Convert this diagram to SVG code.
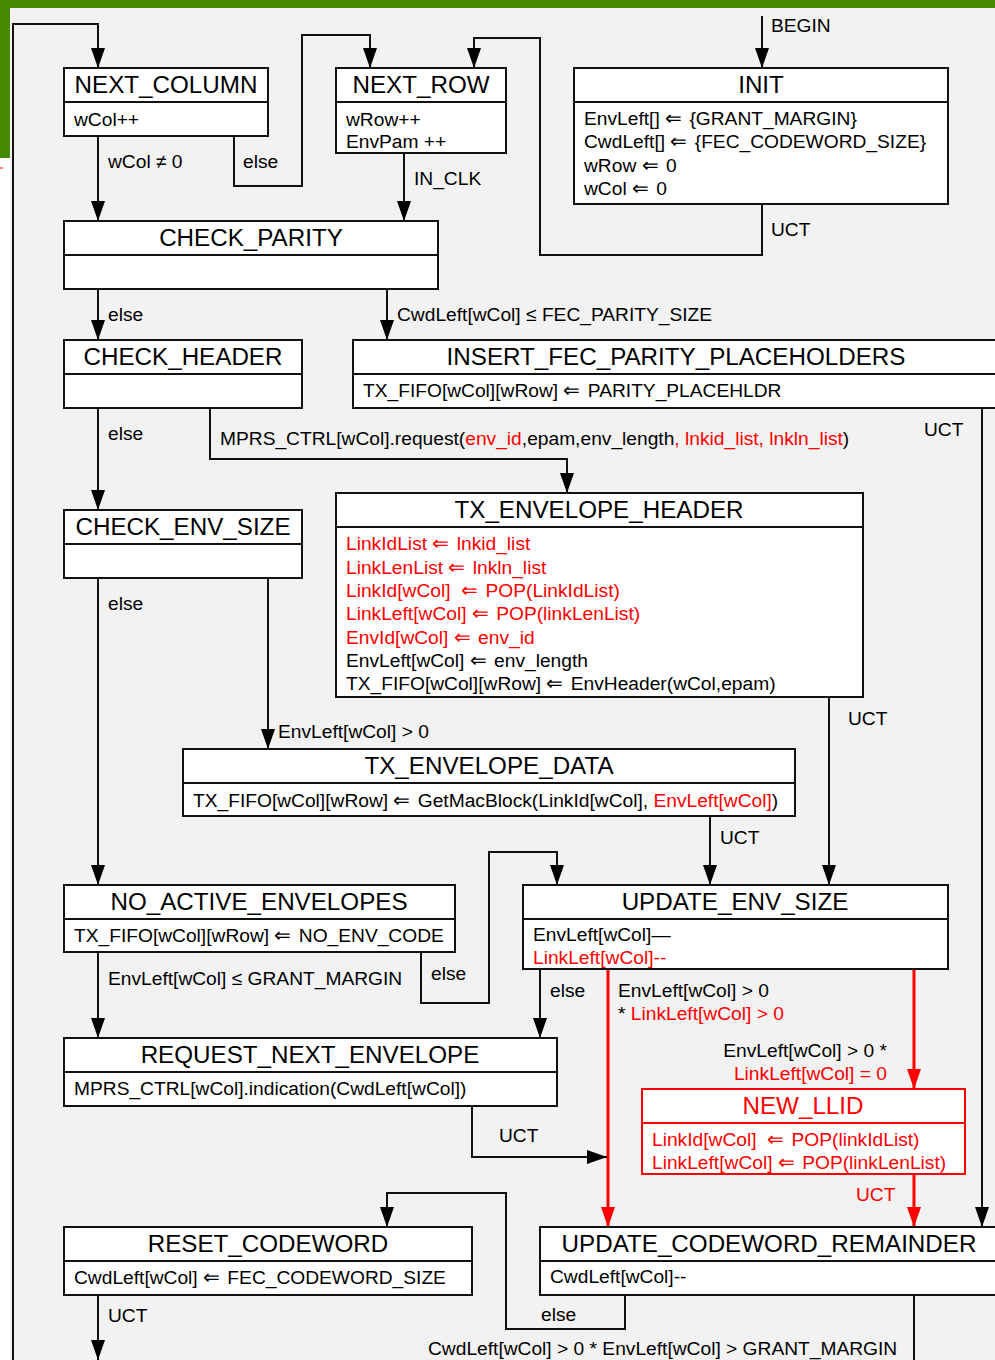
<svg xmlns="http://www.w3.org/2000/svg" width="995" height="1360" viewBox="0 0 995 1360">
<style>
text{font-family:"Liberation Sans",Arial,sans-serif;fill:#000}
.t{font-size:24.2px;text-anchor:middle}
.b{font-size:19.2px}
.l{font-size:19.2px}
.r{fill:#ff0000}
.a{font-size:20px;letter-spacing:2px}
.box{fill:#fff;stroke:#111;stroke-width:2}
.rbox{fill:#fff;stroke:#ff0000;stroke-width:2}
.div{stroke:#111;stroke-width:2;fill:none}
.rdiv{stroke:#ff0000;stroke-width:2;fill:none}
.c{fill:none;stroke:#111;stroke-width:2}
.cr{fill:none;stroke:#ff0000;stroke-width:3}
</style>
<defs>
<marker id="ah" viewBox="0 0 20 14" refX="20" refY="7" markerWidth="20" markerHeight="14" markerUnits="userSpaceOnUse" orient="auto"><path d="M0,0 L20,7 L0,14 z" fill="#000"/></marker>
<marker id="ahr" viewBox="0 0 20 14" refX="20" refY="7" markerWidth="20" markerHeight="14" markerUnits="userSpaceOnUse" orient="auto"><path d="M0,0 L20,7 L0,14 z" fill="#ff0000"/></marker>
</defs>
<rect x="0" y="0" width="995" height="1360" fill="#ffffff"/>
<rect x="10" y="8" width="985" height="1352" fill="#f2f2f2"/>
<rect x="0" y="0" width="995" height="8" fill="#458a00"/>
<rect x="0" y="0" width="10" height="158" fill="#458a00"/>
<path d="M0,168 H3" stroke="#ff0000" stroke-width="1"/>

<g id="connectors">
<path class="c" d="M13,1360 V24 H98 V68" marker-end="url(#ah)"/>
<path class="c" d="M762,16 V68" marker-end="url(#ah)"/>
<path class="c" d="M98,136 V221" marker-end="url(#ah)"/>
<path class="c" d="M234,136 V186 H302 V35 H370 V68" marker-end="url(#ah)"/>
<path class="c" d="M762,204 V255 H540 V38 H474 V68" marker-end="url(#ah)"/>
<path class="c" d="M404,153 V221" marker-end="url(#ah)"/>
<path class="c" d="M98,289 V340" marker-end="url(#ah)"/>
<path class="c" d="M387,289 V340" marker-end="url(#ah)"/>
<path class="c" d="M98,408 V510" marker-end="url(#ah)"/>
<path class="c" d="M210,408 V459 H567 V493" marker-end="url(#ah)"/>
<path class="c" d="M982,408 V1227" marker-end="url(#ah)"/>
<path class="c" d="M98,578 V885" marker-end="url(#ah)"/>
<path class="c" d="M268,578 V749" marker-end="url(#ah)"/>
<path class="c" d="M829,697 V885" marker-end="url(#ah)"/>
<path class="c" d="M710,816 V885" marker-end="url(#ah)"/>
<path class="c" d="M421,952 V1003 H489 V852 H557 V885" marker-end="url(#ah)"/>
<path class="c" d="M98,952 V1038" marker-end="url(#ah)"/>
<path class="c" d="M540,969 V1038" marker-end="url(#ah)"/>
<path class="cr" d="M608,969 V1227" marker-end="url(#ahr)"/>
<path class="cr" d="M914,969 V1089" marker-end="url(#ahr)"/>
<path class="c" d="M472,1106 V1157 H607" marker-end="url(#ah)"/>
<path class="cr" d="M914,1174 V1227" marker-end="url(#ahr)"/>
<path class="c" d="M625,1295 V1329 H506 V1193 H387 V1227" marker-end="url(#ah)"/>
<path class="c" d="M98,1295 V1360" marker-end="url(#ah)"/>
<path class="c" d="M914,1295 V1360"/>

<text class="l" x="771" y="32">BEGIN</text>
<text class="l" x="108" y="168">wCol ≠ 0</text>
<text class="l" x="243" y="168">else</text>
<text class="l" x="414" y="185">IN_CLK</text>
<text class="l" x="771" y="236">UCT</text>
<text class="l" x="108" y="321">else</text>
<text class="l" x="397" y="321">CwdLeft[wCol] ≤ FEC_PARITY_SIZE</text>
<text class="l" x="108" y="440">else</text>
<text class="l" x="220" y="445">MPRS_CTRL[wCol].request(<tspan class="r">env_id</tspan>,epam,env_length<tspan class="r">, lnkid_list, lnkln_list</tspan>)</text>
<text class="l" x="924" y="436">UCT</text>
<text class="l" x="108" y="610">else</text>
<text class="l" x="278" y="738">EnvLeft[wCol] &gt; 0</text>
<text class="l" x="848" y="725">UCT</text>
<text class="l" x="720" y="844">UCT</text>
<text class="l" x="431" y="980">else</text>
<text class="l" x="108" y="985">EnvLeft[wCol] ≤ GRANT_MARGIN</text>
<text class="l" x="550" y="997">else</text>
<text class="l" x="618" y="997">EnvLeft[wCol] &gt; 0</text>
<text class="l" x="618" y="1020">*<tspan class="r"> LinkLeft[wCol] &gt; 0</tspan></text>
<text class="l" x="887" y="1057" text-anchor="end">EnvLeft[wCol] &gt; 0 *</text>
<text class="l r" x="887" y="1080" text-anchor="end">LinkLeft[wCol] = 0</text>
<text class="l" x="499" y="1142">UCT</text>
<text class="l r" x="856" y="1201">UCT</text>
<text class="l" x="108" y="1322">UCT</text>
<text class="l" x="541" y="1321">else</text>
<text class="l" x="428" y="1355">CwdLeft[wCol] &gt; 0 * EnvLeft[wCol] &gt; GRANT_MARGIN</text>
</g>

<g id="next_column">
<rect class="box" x="64" y="68" width="204" height="68"/>
<path class="div" d="M64,102 H268"/>
<text class="t" x="166" y="93">NEXT_COLUMN</text>
<text class="b" x="74" y="126">wCol++</text>
</g>

<g id="next_row">
<rect class="box" x="336" y="68" width="170" height="85"/>
<path class="div" d="M336,102 H506"/>
<text class="t" x="421" y="93">NEXT_ROW</text>
<text class="b" x="346" y="126">wRow++</text>
<text class="b" x="346" y="148">EnvPam ++</text>
</g>

<g id="init">
<rect class="box" x="574" y="68" width="374" height="136"/>
<path class="div" d="M574,102 H948"/>
<text class="t" x="761" y="93">INIT</text>
<text class="b" x="584" y="125">EnvLeft[] <tspan class="a">⇐</tspan> {GRANT_MARGIN}</text>
<text class="b" x="584" y="148">CwdLeft[] <tspan class="a">⇐</tspan> {FEC_CODEWORD_SIZE}</text>
<text class="b" x="584" y="172">wRow <tspan class="a">⇐</tspan> 0</text>
<text class="b" x="584" y="195">wCol <tspan class="a">⇐</tspan> 0</text>
</g>

<g id="check_parity">
<rect class="box" x="64" y="221" width="374" height="68"/>
<path class="div" d="M64,255 H438"/>
<text class="t" x="251" y="246">CHECK_PARITY</text>
</g>

<g id="check_header">
<rect class="box" x="64" y="340" width="238" height="68"/>
<path class="div" d="M64,374 H302"/>
<text class="t" x="183" y="365">CHECK_HEADER</text>
</g>

<g id="insert_fec_parity_placeholders">
<rect class="box" x="353" y="340" width="647" height="68"/>
<path class="div" d="M353,374 H1000"/>
<text class="t" x="676" y="365">INSERT_FEC_PARITY_PLACEHOLDERS</text>
<text class="b" x="363" y="397">TX_FIFO[wCol][wRow] <tspan class="a">⇐</tspan> PARITY_PLACEHLDR</text>
</g>

<g id="check_env_size">
<rect class="box" x="64" y="510" width="238" height="68"/>
<path class="div" d="M64,544 H302"/>
<text class="t" x="183" y="535">CHECK_ENV_SIZE</text>
</g>

<g id="tx_envelope_header">
<rect class="box" x="336" y="493" width="527" height="204"/>
<path class="div" d="M336,527 H863"/>
<text class="t" x="599" y="518">TX_ENVELOPE_HEADER</text>
<text class="b r" x="346" y="550">LinkIdList <tspan class="a">⇐</tspan> lnkid_list</text>
<text class="b r" x="346" y="574">LinkLenList <tspan class="a">⇐</tspan> lnkln_list</text>
<text class="b r" x="346" y="597">LinkId[wCol]&#160; <tspan class="a">⇐</tspan> POP(LinkIdList)</text>
<text class="b r" x="346" y="620">LinkLeft[wCol] <tspan class="a">⇐</tspan> POP(linkLenList)</text>
<text class="b r" x="346" y="644">EnvId[wCol] <tspan class="a">⇐</tspan> env_id</text>
<text class="b" x="346" y="667">EnvLeft[wCol] <tspan class="a">⇐</tspan> env_length</text>
<text class="b" x="346" y="690">TX_FIFO[wCol][wRow] <tspan class="a">⇐</tspan> EnvHeader(wCol,epam)</text>
</g>

<g id="tx_envelope_data">
<rect class="box" x="183" y="749" width="612" height="67"/>
<path class="div" d="M183,783 H795"/>
<text class="t" x="489" y="774">TX_ENVELOPE_DATA</text>
<text class="b" x="193" y="807">TX_FIFO[wCol][wRow] <tspan class="a">⇐</tspan> GetMacBlock(LinkId[wCol], <tspan class="r">EnvLeft[wCol]</tspan>)</text>
</g>

<g id="no_active_envelopes">
<rect class="box" x="64" y="885" width="391" height="67"/>
<path class="div" d="M64,919 H455"/>
<text class="t" x="259" y="910">NO_ACTIVE_ENVELOPES</text>
<text class="b" x="74" y="942">TX_FIFO[wCol][wRow] <tspan class="a">⇐</tspan> NO_ENV_CODE</text>
</g>

<g id="update_env_size">
<rect class="box" x="523" y="885" width="425" height="84"/>
<path class="div" d="M523,919 H948"/>
<text class="t" x="735" y="910">UPDATE_ENV_SIZE</text>
<text class="b" x="533" y="941">EnvLeft[wCol]—</text>
<text class="b r" x="533" y="964">LinkLeft[wCol]--</text>
</g>

<g id="request_next_envelope">
<rect class="box" x="64" y="1038" width="493" height="68"/>
<path class="div" d="M64,1072 H557"/>
<text class="t" x="310" y="1063">REQUEST_NEXT_ENVELOPE</text>
<text class="b" x="74" y="1095">MPRS_CTRL[wCol].indication(CwdLeft[wCol])</text>
</g>

<g id="new_llid">
<rect class="rbox" x="642" y="1089" width="323" height="85"/>
<path class="rdiv" d="M642,1123 H965"/>
<text class="t r" x="803" y="1114">NEW_LLID</text>
<text class="b r" x="652" y="1146">LinkId[wCol]&#160; <tspan class="a">⇐</tspan> POP(linkIdList)</text>
<text class="b r" x="652" y="1169">LinkLeft[wCol] <tspan class="a">⇐</tspan> POP(linkLenList)</text>
</g>

<g id="reset_codeword">
<rect class="box" x="64" y="1227" width="408" height="68"/>
<path class="div" d="M64,1261 H472"/>
<text class="t" x="268" y="1252">RESET_CODEWORD</text>
<text class="b" x="74" y="1284">CwdLeft[wCol] <tspan class="a">⇐</tspan> FEC_CODEWORD_SIZE</text>
</g>

<g id="update_codeword_remainder">
<rect class="box" x="540" y="1227" width="460" height="68"/>
<path class="div" d="M540,1261 H1000"/>
<text class="t" x="769" y="1252">UPDATE_CODEWORD_REMAINDER</text>
<text class="b" x="550" y="1283">CwdLeft[wCol]--</text>
</g>
</svg>
